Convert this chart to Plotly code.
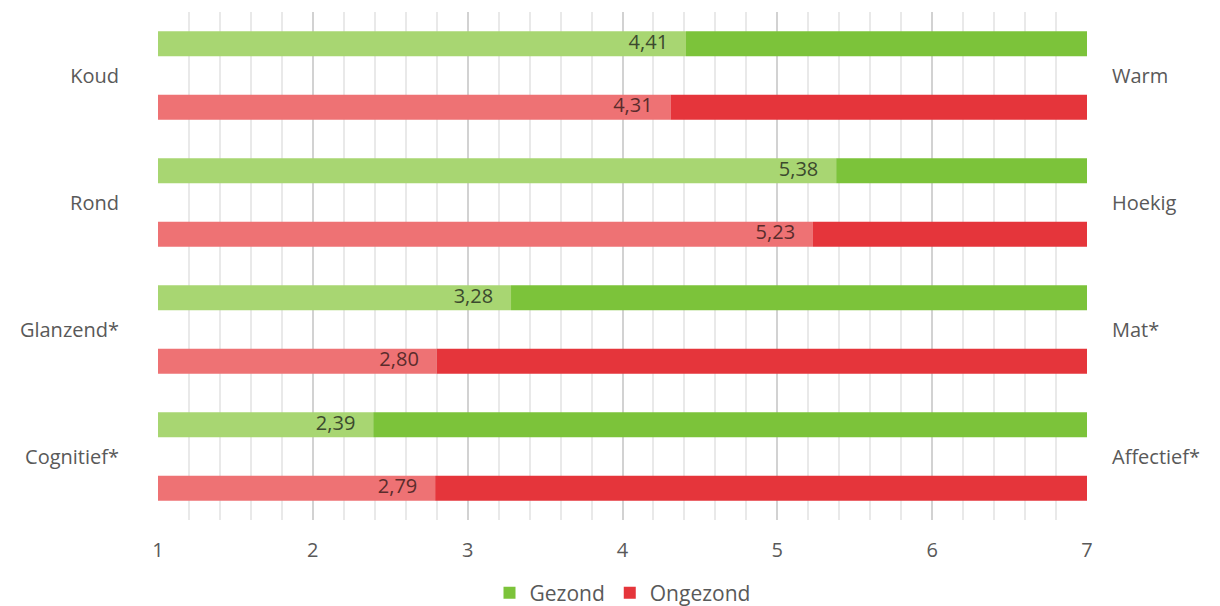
import plotly.graph_objects as go

left_labels = ["Koud", "Rond", "Glanzend*", "Cognitief*"]
right_labels = ["Warm", "Hoekig", "Mat*", "Affectief*"]
gezond = [4.41, 5.38, 3.28, 2.39]
ongezond = [4.31, 5.23, 2.80, 2.79]
x_ticks = [1, 2, 3, 4, 5, 6, 7]
scale_min, scale_max = 1, 7

light_green, dark_green = "#a8d672", "#7cc33a"
light_red, dark_red = "#ee7274", "#e5353b"
FONT = "Open Sans"
FS = 20

fig = go.Figure()

def fmt(v):
    return f"{v:.2f}".replace(".", ",")

yg = [2 * i for i in range(len(gezond))]
yr = [2 * i + 1 for i in range(len(ongezond))]

bw = 0.39
for ys, vals, lc, dc, tc, name in [(yg, gezond, light_green, dark_green, "#3c4a2e", "Gezond"),
                                    (yr, ongezond, light_red, dark_red, "#5a2c2c", "Ongezond")]:
    fig.add_trace(go.Bar(
        y=ys, x=[v - scale_min for v in vals], base=[scale_min] * len(vals),
        orientation="h", marker=dict(color=lc, line=dict(width=0)), width=bw,
        showlegend=False, hoverinfo="skip",
    ))
    fig.add_trace(go.Bar(
        y=ys, x=[scale_max - v for v in vals], base=vals,
        orientation="h", marker=dict(color=dc, line=dict(width=0)), width=bw,
        name=name, showlegend=True, hoverinfo="skip",
    ))
    fig.add_trace(go.Scatter(
        y=ys, x=vals, mode="markers+text", text=[fmt(v) for v in vals],
        marker=dict(size=27, color="rgba(0,0,0,0)"),
        textposition="middle left",
        textfont=dict(color=tc, size=FS, family=FONT),
        showlegend=False, hoverinfo="skip", cliponaxis=False,
    ))

# invisible trace for right axis
fig.add_trace(go.Scatter(x=[None], y=[None], yaxis="y2", showlegend=False))

mid = [2 * i + 0.5 for i in range(len(left_labels))]
plot_h = 606 - 12 - 86
fig.update_layout(
    width=1220, height=606,
    margin=dict(l=158, r=133, t=12, b=86, autoexpand=False),
    paper_bgcolor="white", plot_bgcolor="white",
    barmode="overlay",
    font=dict(family=FONT, color="#595959", size=FS),
    xaxis=dict(range=[scale_min, scale_max], tickvals=x_ticks,
               showgrid=True, gridcolor="#d2d2d2", gridwidth=2,
               minor=dict(dtick=0.2, showgrid=True, gridcolor="#e9e9e9", gridwidth=1.5),
               zeroline=False, showline=False, ticks="",
               ticklabelstandoff=16, tickfont=dict(size=FS, color="#595959")),
    yaxis=dict(range=[7.5, -0.5], tickvals=mid, ticktext=left_labels,
               showgrid=False, zeroline=False, ticks="", ticklabelstandoff=38,
               tickfont=dict(size=FS, color="#595959")),
    yaxis2=dict(range=[7.5, -0.5], tickvals=mid, ticktext=right_labels,
                overlaying="y", side="right", showgrid=False, zeroline=False,
                ticks="", ticklabelstandoff=24,
                tickfont=dict(size=FS, color="#595959")),
    legend=dict(orientation="h", x=0.5, xanchor="center",
                y=-73 / plot_h, yanchor="middle",
                font=dict(size=FS + 1, color="#595959"), itemwidth=30,
                traceorder="normal"),
)

fig.write_html("out.html")
